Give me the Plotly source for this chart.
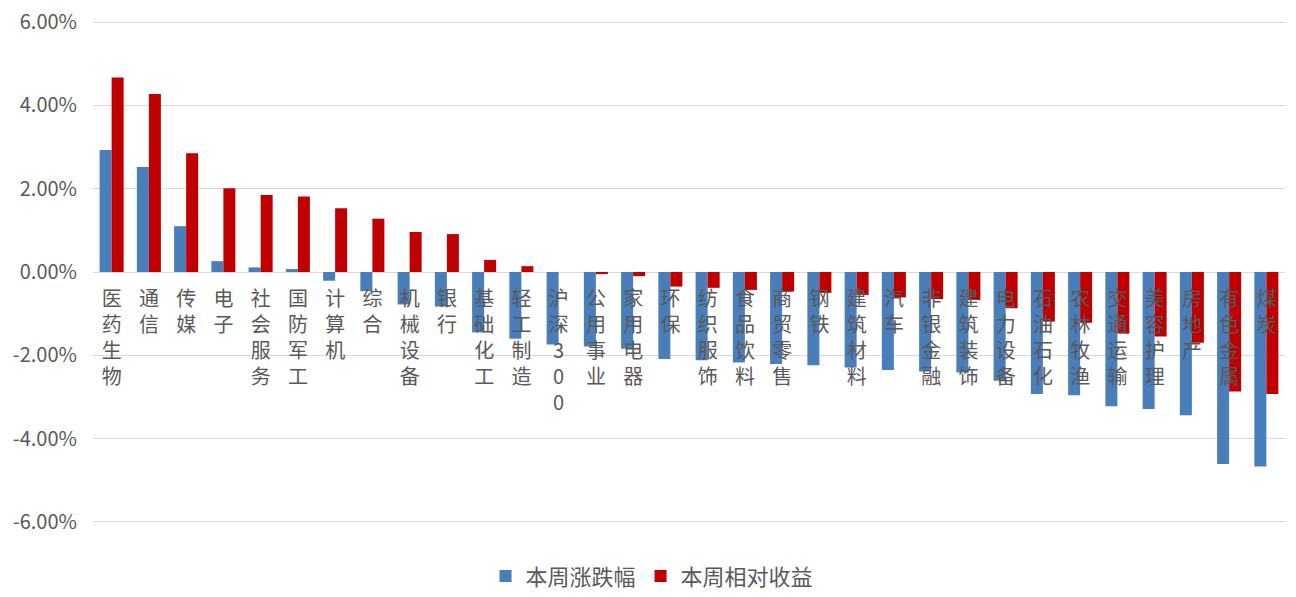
import plotly.graph_objects as go

# 申万一级行业 + 沪深300，本周表现（单位：%）
industries = [
    "医药生物", "通信", "传媒", "电子", "社会服务", "国防军工", "计算机", "综合",
    "机械设备", "银行", "基础化工", "轻工制造", "沪深300", "公用事业", "家用电器", "环保",
    "纺织服饰", "食品饮料", "商贸零售", "钢铁", "建筑材料", "汽车", "非银金融", "建筑装饰",
    "电力设备", "石油石化", "农林牧渔", "交通运输", "美容护理", "房地产", "有色金属", "煤炭",
]
weekly_change = [
    2.93, 2.52, 1.10, 0.26, 0.11, 0.07, -0.21, -0.46,
    -0.78, -0.83, -1.45, -1.60, -1.74, -1.79, -1.84, -2.09,
    -2.12, -2.17, -2.21, -2.24, -2.29, -2.35, -2.39, -2.41,
    -2.61, -2.93, -2.96, -3.22, -3.29, -3.44, -4.61, -4.67,
]
relative_return = [
    4.67, 4.27, 2.85, 2.01, 1.85, 1.81, 1.53, 1.28,
    0.96, 0.91, 0.29, 0.14, 0.00, -0.05, -0.10, -0.35,
    -0.38, -0.43, -0.47, -0.50, -0.55, -0.61, -0.65, -0.67,
    -0.87, -1.19, -1.22, -1.48, -1.55, -1.70, -2.87, -2.93,
]
y_ticks = [-6, -4, -2, 0, 2, 4, 6]

BLUE = "#4A7EBB"
RED = "#C00000"
GREY = "#595959"
FONT = "Noto Sans CJK SC"

# 竖排标签：每个字一行
vertical_labels = ["<br>".join(list(name)) for name in industries]
y_tick_text = [f"{v:.2f}%" for v in y_ticks]

fig = go.Figure()
fig.add_trace(go.Bar(x=industries, y=weekly_change, name="本周涨跌幅",
                     marker=dict(color=BLUE, line=dict(width=0))))
fig.add_trace(go.Bar(x=industries, y=relative_return, name="本周相对收益",
                     marker=dict(color=RED, line=dict(width=0))))

fig.update_xaxes(
    tickmode="array",
    tickvals=industries,
    ticktext=vertical_labels,
    tickangle=0,
    tickfont=dict(family=FONT, size=20, color=GREY),
    anchor="free",
    position=0.5,
    showline=False,
    showgrid=False,
    ticks="outside",
    ticklen=9,
    tickcolor="rgba(0,0,0,0)",
    automargin=False,
)
# 范围略放宽，保证 ±6% 的网格线能画出来
fig.update_yaxes(
    range=[-6.025, 6.025],
    tickmode="array",
    tickvals=y_ticks,
    ticktext=y_tick_text,
    tickfont=dict(family=FONT, size=20, color=GREY),
    showgrid=True,
    gridcolor="#D9D9D9",
    gridwidth=1,
    zeroline=True,
    zerolinecolor="#D9D9D9",
    zerolinewidth=1,
    showline=False,
    ticks="outside",
    ticklen=11,
    tickcolor="rgba(0,0,0,0)",
    automargin=False,
)
fig.update_layout(
    width=1296,
    height=597,
    barmode="group",
    bargap=0.355,
    bargroupgap=0,
    plot_bgcolor="white",
    paper_bgcolor="white",
    margin=dict(l=93, r=11, t=21, b=74, autoexpand=False),
    font=dict(family=FONT, color=GREY),
    legend=dict(
        orientation="h",
        x=0.469,
        xanchor="center",
        y=-0.106,
        yanchor="middle",
        font=dict(family=FONT, size=22, color=GREY),
        traceorder="normal",
    ),
    showlegend=True,
)

# 去掉页面默认外边距，让图表正好铺满窗口
fig.write_html(
    "out.html",
    config={"displayModeBar": False},
    post_script="document.body.style.margin='0';document.body.style.overflow='hidden';",
)
